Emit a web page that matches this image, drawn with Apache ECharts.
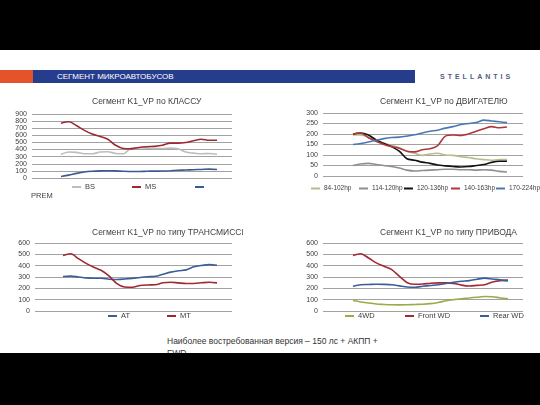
<!DOCTYPE html>
<html><head><meta charset="utf-8">
<script src="https://cdn.jsdelivr.net/npm/echarts@6/dist/echarts.min.js"></script>
<style>
html,body{margin:0;padding:0;background:#fff;width:540px;height:405px;overflow:hidden;font-family:"Liberation Sans",Arial,sans-serif;}
.abs{position:absolute;}
</style></head>
<body>
<div class="abs" style="left:0;top:0;width:540px;height:50px;background:#000"></div>
<div class="abs" style="left:0;top:70px;width:33px;height:13px;background:#e4532a"></div>
<div class="abs" style="left:33px;top:70px;width:382px;height:13px;background:#263d8e"></div>
<div class="abs" style="left:57px;top:70px;height:13px;line-height:13px;font-size:8px;color:#fff;">СЕГМЕНТ МИКРОАВТОБУСОВ</div>
<div class="abs" style="left:440px;top:71px;height:11px;line-height:11px;font-size:7px;font-weight:bold;letter-spacing:3px;color:#51607f;">STELLANTIS</div>
<div id="c1" class="abs" style="left:10px;top:92px;width:250px;height:115px"></div>
<div id="c2" class="abs" style="left:280px;top:92px;width:260px;height:115px"></div>
<div id="c3" class="abs" style="left:10px;top:222px;width:233px;height:105px"></div>
<div id="c4" class="abs" style="left:280px;top:222px;width:260px;height:105px"></div>
<div class="abs" style="left:167px;top:336px;width:232px;font-size:8.5px;line-height:11.5px;color:#333;">Наиболее востребованная версия – 150 лс + АКПП + FWD</div>
<div class="abs" style="left:0;top:353px;width:540px;height:52px;background:#000"></div>
<script>
// ---- data ----
const classNames = ['BS', 'MS', 'PREM'];
const classBS   = [330, 365, 360, 340, 340, 365, 370, 345, 340, 420, 425, 420, 415, 415, 420, 410, 365, 350, 340, 345, 335];
const classMS   = [770, 790, 735, 670, 620, 585, 545, 460, 415, 410, 430, 440, 445, 460, 490, 490, 500, 525, 545, 530, 530];
const classPREM = [20, 40, 65, 85, 95, 100, 102, 100, 95, 92, 92, 95, 97, 98, 102, 108, 112, 117, 120, 125, 120];

const engineNames = ['84-102hp', '114-120hp', '120-136hp', '140-163hp', '170-224hp'];
const eng84  = [195, 195, 185, 168, 157, 145, 135, 118, 108, 98, 105, 108, 100, 98, 92, 88, 82, 78, 75, 78, 78];
const eng114 = [50, 57, 60, 55, 50, 45, 38, 28, 24, 26, 28, 30, 32, 32, 30, 30, 28, 30, 28, 22, 19];
const eng120 = [200, 205, 195, 172, 155, 140, 118, 82, 75, 66, 60, 52, 48, 45, 43, 45, 50, 55, 65, 70, 70];
const eng140 = [200, 205, 182, 165, 150, 140, 132, 118, 115, 125, 130, 145, 190, 195, 193, 200, 213, 225, 235, 230, 233];
const eng170 = [150, 155, 162, 170, 178, 183, 185, 190, 196, 205, 213, 218, 228, 235, 245, 250, 255, 266, 262, 258, 254];

const transNames = ['AT', 'MT'];
const transAT = [305, 308, 300, 292, 289, 289, 280, 278, 282, 288, 296, 302, 306, 325, 343, 355, 363, 390, 402, 409, 404];
const transMT = [490, 505, 462, 420, 386, 357, 307, 242, 212, 210, 225, 230, 232, 250, 254, 248, 243, 243, 249, 254, 248];

const driveNames = ['4WD', 'Front WD', 'Rear WD'];
const drive4WD   = [92, 80, 70, 62, 58, 55, 54, 55, 58, 60, 65, 75, 90, 100, 108, 115, 122, 128, 126, 115, 108];
const driveFront = [490, 505, 468, 425, 395, 365, 305, 250, 236, 238, 245, 248, 248, 244, 228, 220, 226, 232, 255, 268, 272];
const driveRear  = [218, 232, 234, 236, 235, 232, 222, 212, 210, 218, 225, 232, 242, 254, 262, 268, 280, 290, 282, 275, 266];

const periods = classBS.map((_, i) => 'P' + (i + 1));

const titles = ['Сегмент K1_VP по КЛАССУ', 'Сегмент K1_VP по ДВИГАТЕЛЮ', 'Сегмент K1_VP по типу ТРАНСМИССИИ', 'Сегмент K1_VP по типу ПРИВОДА'];

// ---- builder ----
const FONT = '"Liberation Sans", Arial, sans-serif';
function build(el, cfg) {
  const chart = echarts.init(document.getElementById(el), null, {renderer: 'canvas'});
  const gridA = {left: cfg.gridA[0], top: cfg.gridA[1], width: cfg.gridA[2], height: cfg.gridA[3]};
  const gridB = {left: cfg.gridB[0], top: cfg.gridA[1], width: cfg.gridB[1], height: cfg.gridA[3]};
  const legends = cfg.series.map((s, i) => ({
    left: cfg.legendX[i], top: cfg.legendY, data: [s.name], icon: 'rect', itemWidth: 9, itemHeight: 2,
    itemGap: 3, padding: 0,
    formatter: s.hideLegendText ? ' ' : '{name}',
    textStyle: {fontFamily: FONT, fontSize: cfg.legendFont || 7.5, color: '#404040', padding: [0, 0, 0, -1]}
  }));
  chart.setOption({
    animation: false,
    title: {text: cfg.title, left: cfg.titleX, top: cfg.titleY, padding: 0,
      textStyle: {fontFamily: FONT, fontSize: 8.5, fontWeight: 'normal', color: '#404040'}},
    legend: legends,
    grid: [gridA, gridB],
    xAxis: [
      {type: 'category', gridIndex: 0, data: periods, boundaryGap: false, show: true,
       axisLine: {show: false}, axisTick: {show: false}, axisLabel: {show: false}, splitLine: {show: false}},
      {type: 'category', gridIndex: 1, data: periods, boundaryGap: false, show: false}
    ],
    yAxis: [
      {type: 'value', gridIndex: 0, min: 0, max: cfg.max, interval: cfg.interval,
       axisLine: {show: false}, axisTick: {show: false},
       axisLabel: {fontFamily: FONT, fontSize: 7, color: '#404040', margin: cfg.labelMargin || 5},
       splitLine: {lineStyle: {color: '#a2a2a2', width: 1}}},
      {type: 'value', gridIndex: 1, min: 0, max: cfg.max, interval: cfg.interval, show: false, splitLine: {show: false}}
    ],
    graphic: cfg.graphic || [],
    series: cfg.series.map(s => ({
      name: s.name, type: 'line', xAxisIndex: 1, yAxisIndex: 1, data: s.data,
      showSymbol: false, symbol: 'none', smooth: 0.3,
      lineStyle: {color: s.color, width: 1.6}, itemStyle: {color: s.color}
    }))
  });
}

build('c1', {
  title: titles[0], titleX: 82, titleY: 5,
  gridA: [22, 22, 200, 64], gridB: [51, 156], max: 900, interval: 100,
  legendY: 91, legendX: [62, 122, 185],
  series: [
    {name: classNames[0], data: classBS, color: '#bdbdbd'},
    {name: classNames[1], data: classMS, color: '#9d2a33'},
    {name: classNames[2], data: classPREM, color: '#3b5a8e', hideLegendText: true}
  ],
  graphic: [{type: 'text', left: 21, top: 100, style: {text: classNames[2], font: '7.5px ' + FONT, fill: '#404040'}}]
});

build('c2', {
  title: titles[1], titleX: 100, titleY: 5,
  gridA: [43, 21, 200, 63], gridB: [73, 154], max: 300, interval: 50,
  legendY: 93, legendX: [31, 79, 124, 171, 216], legendFont: 6.5,
  series: [
    {name: engineNames[0], data: eng84, color: '#b9bb8b'},
    {name: engineNames[1], data: eng114, color: '#8f8f8f'},
    {name: engineNames[2], data: eng120, color: '#111111'},
    {name: engineNames[3], data: eng140, color: '#b0363d'},
    {name: engineNames[4], data: eng170, color: '#4a78b5'}
  ]
});

build('c3', {
  title: titles[2], titleX: 82, titleY: 6,
  gridA: [25, 21, 197, 68], gridB: [53, 154], max: 600, interval: 100,
  legendY: 90, legendX: [98, 157],
  series: [
    {name: transNames[0], data: transAT, color: '#3b5d98'},
    {name: transNames[1], data: transMT, color: '#9d2a33'}
  ]
});

build('c4', {
  title: titles[3], titleX: 100, titleY: 6,
  gridA: [43, 21, 200, 68], gridB: [73, 155], max: 600, interval: 100,
  legendY: 90, legendX: [65, 125, 200],
  series: [
    {name: driveNames[0], data: drive4WD, color: '#9caa48'},
    {name: driveNames[1], data: driveFront, color: '#a22a36'},
    {name: driveNames[2], data: driveRear, color: '#3b5d98'}
  ]
});
</script>
</body></html>
